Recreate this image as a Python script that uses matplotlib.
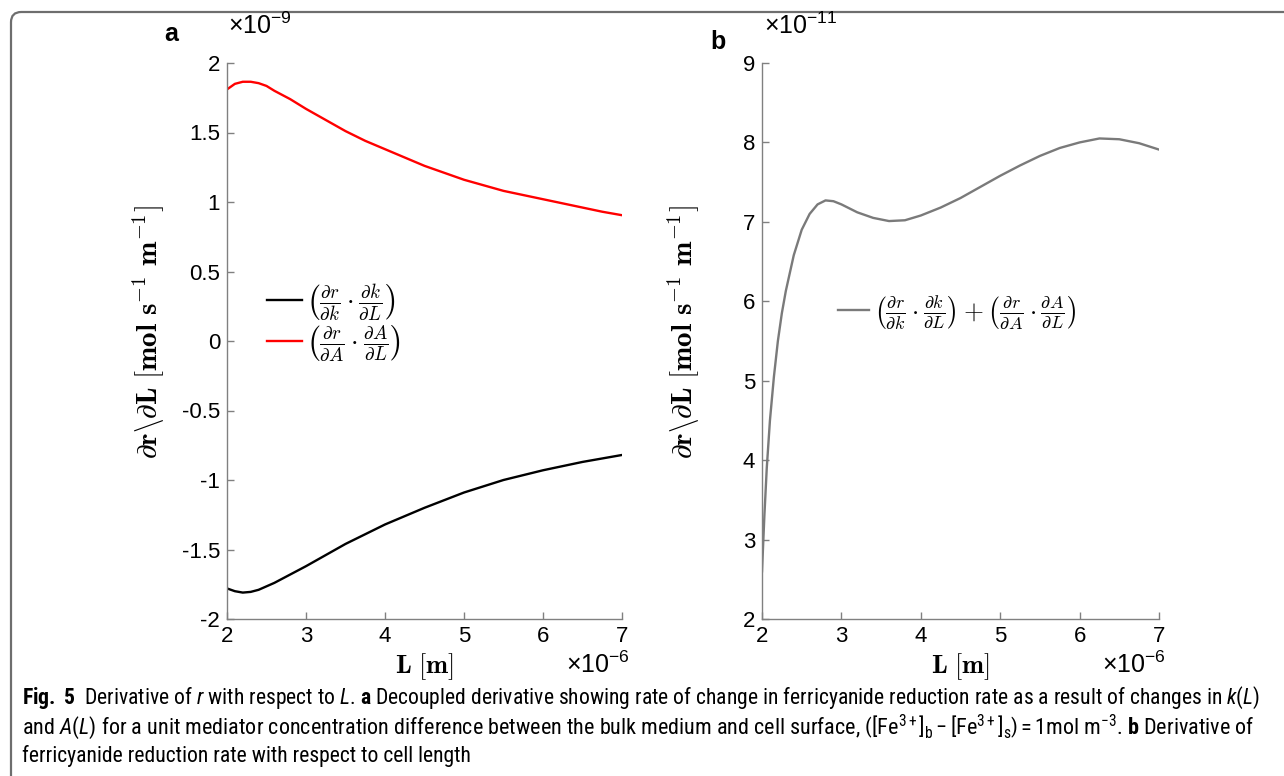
import matplotlib
matplotlib.use("Agg")
import matplotlib.pyplot as plt
from matplotlib import font_manager
from matplotlib.patches import FancyBboxPatch
from matplotlib.lines import Line2D

# ---------------- data ----------------
# panel a (x in 1e-6 m, y in 1e-9)
L_a = [2.0, 2.1, 2.2, 2.3, 2.4, 2.5, 2.6, 2.8, 3.0, 3.25, 3.5, 3.75, 4.0, 4.25, 4.5,
       4.75, 5.0, 5.25, 5.5, 5.75, 6.0, 6.25, 6.5, 6.75, 7.0]
red_a = [1.81, 1.85, 1.865, 1.865, 1.855, 1.835, 1.80, 1.74, 1.67, 1.59, 1.51, 1.44,
         1.38, 1.32, 1.26, 1.21, 1.16, 1.12, 1.08, 1.05, 1.02, 0.99, 0.96, 0.93, 0.905]
black_a = [-1.78, -1.80, -1.81, -1.805, -1.79, -1.765, -1.74, -1.68, -1.62, -1.54,
           -1.46, -1.39, -1.32, -1.26, -1.20, -1.145, -1.09, -1.045, -1.00, -0.965,
           -0.93, -0.90, -0.87, -0.845, -0.82]
# panel b (x in 1e-6 m, y in 1e-11)
L_b = [2.0, 2.03, 2.06, 2.1, 2.15, 2.2, 2.25, 2.3, 2.4, 2.5, 2.6, 2.7, 2.8, 2.9, 3.0,
       3.2, 3.4, 3.6, 3.8, 4.0, 4.25, 4.5, 4.75, 5.0, 5.25, 5.5, 5.75, 6.0, 6.25,
       6.5, 6.75, 7.0]
sum_b = [2.6, 3.3, 3.9, 4.5, 5.05, 5.5, 5.85, 6.13, 6.58, 6.9, 7.1, 7.22, 7.27, 7.26,
         7.22, 7.12, 7.05, 7.01, 7.02, 7.08, 7.18, 7.3, 7.44, 7.58, 7.71, 7.83, 7.93,
         8.0, 8.05, 8.04, 7.99, 7.91]

xticks = [2, 3, 4, 5, 6, 7]
yticks_a = [-2, -1.5, -1, -0.5, 0, 0.5, 1, 1.5, 2]
yticks_b = [2, 3, 4, 5, 6, 7, 8, 9]
ytick_labels_a = ["-2", "-1.5", "-1", "-0.5", "0", "0.5", "1", "1.5", "2"]

leg_a = [r"$\left(\frac{\partial r}{\partial k}\cdot\frac{\partial k}{\partial L}\right)$",
         r"$\left(\frac{\partial r}{\partial A}\cdot\frac{\partial A}{\partial L}\right)$"]
leg_b = r"$\left(\frac{\partial r}{\partial k}\cdot\frac{\partial k}{\partial L}\right)+\left(\frac{\partial r}{\partial A}\cdot\frac{\partial A}{\partial L}\right)$"
ylab = r"$\partial\mathbf{r}\backslash\partial\mathbf{L}\ \mathbf{[mol\ s^{-1}\ m^{-1}]}$"
xlab = r"$\mathbf{L\ [m]}$"

# ---------------- fonts ----------------
names = sorted({f.name for f in font_manager.fontManager.ttflist})
narrow = None
for pref in ("Liberation Sans Narrow", "Roboto Condensed", "Open Sans Condensed",
             "Noto Sans Condensed", "DejaVu Sans Condensed"):
    if pref in names:
        narrow = pref
        break
if narrow is None:
    cands = [n for n in names if ("Condensed" in n or "Narrow" in n)]
    narrow = cands[0] if cands else "Roboto"

plt.rcParams["font.family"] = ["Liberation Sans", "DejaVu Sans"]
plt.rcParams["mathtext.fontset"] = "custom"
plt.rcParams["mathtext.rm"] = narrow
plt.rcParams["mathtext.it"] = narrow + ":italic"
plt.rcParams["mathtext.bf"] = narrow + ":bold"
plt.rcParams["mathtext.sf"] = narrow

W, H = 1284, 776
fig = plt.figure(figsize=(W / 100, H / 100), dpi=100)

# frame
frame = FancyBboxPatch((11 / W, -0.2), 1.2, 1.2 - 12 / H,
                       boxstyle="round,pad=0,rounding_size=0.008",
                       transform=fig.transFigure, fill=False,
                       edgecolor="#6e6e6e", linewidth=1.6, mutation_aspect=W / H)
fig.patches.append(frame)

def fx(px):
    return px / W

def fy(py):
    return 1 - py / H

spine_c = "#808080"
ax_a = fig.add_axes([fx(227), fy(619), fx(622) - fx(227), fy(63) - fy(619)])
ax_b = fig.add_axes([fx(762), fy(619), fx(1159) - fx(762), fy(63) - fy(619)])

for ax in (ax_a, ax_b):
    for s in ("top", "right"):
        ax.spines[s].set_visible(False)
    for s in ("left", "bottom"):
        ax.spines[s].set_color(spine_c)
        ax.spines[s].set_linewidth(1.0)
    ax.tick_params(direction="in", length=5, width=1.0, color=spine_c,
                   labelsize=16, pad=5, labelcolor="black")
    ax.set_xlim(2, 7)
    ax.set_xticks(xticks)
    ax.set_xticklabels([str(t) for t in xticks])

ax_a.plot(L_a, black_a, color="black", lw=1.7)
ax_a.plot(L_a, red_a, color="#ff0000", lw=1.7)
ax_a.set_ylim(-2, 2)
ax_a.set_yticks(yticks_a)
ax_a.set_yticklabels(ytick_labels_a)

ax_b.plot(L_b, sum_b, color="#7a7a7a", lw=1.7)
ax_b.set_ylim(2, 9)
ax_b.set_yticks(yticks_b)
ax_b.set_yticklabels([str(t) for t in yticks_b])

for ax in (ax_a, ax_b):
    yl = ax.set_ylabel(ylab, fontsize=21)
    yl.set_math_fontfamily("cm")
    ax.yaxis.set_label_coords(-0.152, 0.515)
    xl = ax.set_xlabel(xlab, fontsize=19)
    xl.set_math_fontfamily("cm")
    ax.xaxis.set_label_coords(0.5, -0.058)

# legends
h1 = Line2D([], [], color="black", lw=1.7)
h2 = Line2D([], [], color="#ff0000", lw=1.7)
lg = ax_a.legend([h1, h2], leg_a, loc="center left", bbox_to_anchor=(0.101, 0.532),
                 frameon=False, fontsize=19.5, handlelength=1.3, handletextpad=0.15,
                 labelspacing=0.0, borderpad=0, borderaxespad=0)
for t in lg.get_texts():
    t.set_math_fontfamily("cm")
h3 = Line2D([], [], color="#7a7a7a", lw=1.7)
lg2 = ax_b.legend([h3], [leg_b], loc="center left", bbox_to_anchor=(0.191, 0.55),
                  frameon=False, fontsize=18.5, handlelength=1.2, handletextpad=0.2,
                  borderpad=0, borderaxespad=0)
for t in lg2.get_texts():
    t.set_math_fontfamily("cm")

# multipliers
mfs = 18
fig.text(fx(228), fy(26), "×$\\mathregular{10^{-9}}$", fontsize=mfs, va="center", ha="left")
fig.text(fx(764), fy(26), "×$\\mathregular{10^{-11}}$", fontsize=mfs, va="center", ha="left")
fig.text(fx(566), fy(665), "×$\\mathregular{10^{-6}}$", fontsize=mfs, va="center", ha="left")
fig.text(fx(1102), fy(665), "×$\\mathregular{10^{-6}}$", fontsize=mfs, va="center", ha="left")

# panel labels
fig.text(fx(171), fy(34), "a", fontsize=18, fontweight="bold", ha="center", va="center")
fig.text(fx(718), fy(42), "b", fontsize=18, fontweight="bold", ha="center", va="center")

# caption
cap1 = (r"$\mathbf{Fig.\ 5}$  Derivative of $r$ with respect to $L$. $\mathbf{a}$ Decoupled derivative "
        r"showing rate of change in ferricyanide reduction rate as a result of changes in $k$($L$)")
cap2 = (r"and $A$($L$) for a unit mediator concentration difference between the bulk medium and cell surface, "
        r"$\left([\mathrm{Fe}^{3+}]_\mathrm{b}-[\mathrm{Fe}^{3+}]_\mathrm{s}\right)=1$mol m$^{-3}$. "
        r"$\mathbf{b}$ Derivative of")
cap3 = "ferricyanide reduction rate with respect to cell length"
renderer = fig.canvas.get_renderer()
target = 1240.0
cfs0 = 14.0
caps = []
for txt, y in ((cap1, 698), (cap2, 727), (cap3, 756)):
    caps.append(fig.text(fx(22), fy(y), txt, fontsize=cfs0, family=narrow,
                         ha="left", va="center"))
w1 = caps[0].get_window_extent(renderer).width
s1 = cfs0 * target / w1
caps[0].set_fontsize(s1)
caps[2].set_fontsize(s1)
w2 = caps[1].get_window_extent(renderer).width
caps[1].set_fontsize(min(cfs0 * target / w2, s1 * 1.05))

fig.savefig("out.png", dpi=100)
